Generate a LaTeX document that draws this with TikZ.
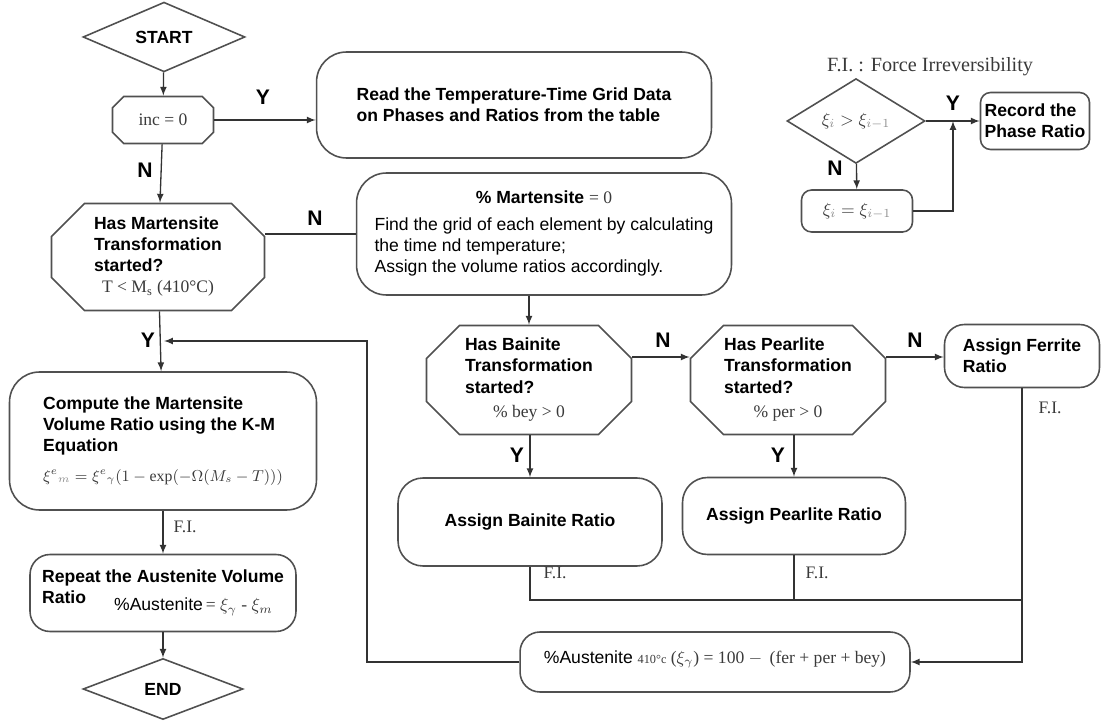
\documentclass[tikz,border=0pt]{standalone}
\usepackage{fontspec}
\setmainfont{Liberation Serif}
\setsansfont{Liberation Sans}
\usetikzlibrary{shapes.geometric,shapes.misc,positioning}
\definecolor{edge}{HTML}{505050}
\definecolor{serif}{HTML}{3A3A3A}
\tikzset{
  lbl/.style={font=\sffamily\bfseries\fontsize{10}{12}\selectfont, align=left},
  yn/.style={font=\sffamily\bfseries\fontsize{12}{14}\selectfont},
  fi/.style={font=\rmfamily\fontsize{10}{12}\selectfont, text=serif},
  decide/.style={diamond, draw=edge, line width=0.9pt, inner sep=0pt, lbl},
  octo/.style={chamfered rectangle, chamfered rectangle xsep=0.55cm, draw=edge, line width=0.9pt, inner sep=0pt, lbl},
  rbox/.style={rectangle, rounded corners=#1, draw=edge, line width=0.9pt, inner sep=0pt, lbl},
  rbox/.default=0.5cm,
  flow/.style={draw=black!80, line width=0.75pt}
}
\newcommand{\gsub}[1]{\textcolor{black!45}{#1}}
\begin{document}
\begin{tikzpicture}[x=0.02cm, y=-0.02cm]
  \useasboundingbox (0,0) rectangle (1102,726);
  % main column
  \node[decide, minimum width=3.24cm, minimum height=1.24cm] (start) at (164,37) {START};
  \node[octo, chamfered rectangle xsep=0.25cm, minimum width=2.02cm, minimum height=0.94cm] (inc) at (163,120)
    {\rmfamily\mdseries\color{serif}inc = 0};
  \node[rbox=0.6cm, minimum width=7.9cm, minimum height=2.12cm] (read) at (514,105)
    {Read the Temperature-Time Grid Data\\on Phases and Ratios from the table};
  \node[octo, minimum width=4.26cm, minimum height=2.14cm] (mart) at (158,257)
    {\begin{tabular}{@{}l@{}}Has Martensite\\Transformation\\started?\\
     \multicolumn{1}{@{}c@{}}{\rmfamily\mdseries\color{serif}T < M\textsubscript{s} (410°C)}\end{tabular}};
  \node[rbox=0.6cm, minimum width=7.5cm, minimum height=2.44cm] (pmart) at (544,234)
    {\begin{tabular}{@{}l@{}}\multicolumn{1}{@{}c@{}}{\% Martensite {\rmfamily\mdseries\color{serif}= 0}}\\[3pt]
     \mdseries Find the grid of each element by calculating\\
     \mdseries the time nd temperature;\\
     \mdseries Assign the volume ratios accordingly.\end{tabular}};
  \node[rbox=0.6cm, minimum width=6.14cm, minimum height=2.76cm] (compute) at (163,441)
    {\begin{tabular}{@{}l@{}}Compute the Martensite\\Volume Ratio using the K-M\\Equation\\[5pt]
     \mdseries\color{serif}\fontsize{9}{11}\selectfont$\xi^{e}{}_{\gsub{m}} = \xi^{e}{}_{\gamma}(1-\exp(-\Omega(M_{s}-T)))$\end{tabular}};
  \node[rbox=0.4cm, minimum width=5.32cm, minimum height=1.54cm] (repeat) at (163,593)
    {Repeat the Austenite Volume\\Ratio\hspace{16pt}\raisebox{-4pt}{\mdseries\%Austenite{\rmfamily\color{serif}\,= $\xi_{\gamma}$ - $\xi_{m}$}}};
  \node[decide, minimum width=3.2cm, minimum height=1.22cm] (stop) at (163,689) {END};
  % right part
  \node[octo, minimum width=4.1cm, minimum height=2.18cm] (bai) at (529,380)
    {\begin{tabular}{@{}l@{}}Has Bainite\\Transformation\\started?\\[2pt]
     \multicolumn{1}{@{}c@{}}{\rmfamily\mdseries\color{serif}\% bey > 0}\end{tabular}};
  \node[octo, minimum width=3.9cm, minimum height=2.18cm] (pea) at (788,380)
    {\begin{tabular}{@{}l@{}}Has Pearlite\\Transformation\\started?\\[2pt]
     \multicolumn{1}{@{}c@{}}{\rmfamily\mdseries\color{serif}\% per > 0}\end{tabular}};
  \node[rbox=0.4cm, minimum width=3.1cm, minimum height=1.26cm] (fer) at (1022,356) {Assign Ferrite\\Ratio};
  \node[rbox, minimum width=5.28cm, minimum height=1.76cm] (bass) at (530,522) {Assign Bainite Ratio};
  \node[rbox, minimum width=4.46cm, minimum height=1.54cm] (pass) at (794,516) {Assign Pearlite Ratio};
  \node[rbox=0.4cm, minimum width=7.8cm, minimum height=1.2cm] (aus) at (715,662)
    {\raisebox{6pt}{\mdseries\%Austenite {\rmfamily\color{serif}{\scriptsize 410°c} ($\xi_{\gamma}$) = 100 $-$\, (fer + per + bey)}}};
  % legend
  \node[fi, font=\rmfamily\fontsize{11.5}{13}\selectfont] (title) at (930,67) {F.I. : Force Irreversibility};
  \node[decide, minimum width=2.76cm, minimum height=1.14cm] (cmp) at (856,121)
    {\rmfamily\mdseries\color{serif}$\xi_{\gsub{i}} > \xi_{\gsub{i-1}}$};
  \node[rbox=0.2cm, minimum width=2.18cm, minimum height=1.14cm] (rec) at (1035,121) {Record the\\Phase Ratio};
  \node[rbox=0.2cm, minimum width=2.22cm, minimum height=0.84cm] (keep) at (857,211)
    {\rmfamily\mdseries\color{serif}$\xi_{\gsub{i}} = \xi_{\gsub{i-1}}$};

  \coordinate (ent) at (164,341);
  \coordinate (turn) at (367,341);
  \coordinate (low) at (0,600);
  \coordinate (jn) at (953,121);

  % connectors
  \draw[flow, -latex] (start) -- (inc);
  \draw[flow, -latex] (inc.east) -- (inc.east -| read.west);
  \draw[flow, -latex] (inc) -- (mart);
  \draw[flow] (pmart.west -| mart.east) -- (pmart.west);
  \draw[flow, -latex] (pmart.south -| bai.north) -- (bai.north);
  \draw[flow, -latex] (mart) -- (compute);
  \draw[flow, -latex] (aus.west) -| (turn) -- (ent);
  \draw[flow, -latex] (compute) -- (repeat);
  \draw[flow, -latex] (repeat) -- (stop);
  \draw[flow, -latex] ([yshift=0.46cm]bai.east) -- ([yshift=0.46cm]pea.west);
  \draw[flow, -latex] ([yshift=0.46cm]pea.east) -- ([yshift=0.46cm]pea.east -| fer.west);
  \draw[flow, -latex] (bai.south -| bass.north) -- (bass.north);
  \draw[flow, -latex] (pea.south -| pass.north) -- (pass.north);
  \draw[flow] (bass.south) |- (fer.south |- low);
  \draw[flow] (pass.south) -- (pass.south |- low);
  \draw[flow, -latex] (fer.south) |- (aus.east);
  \draw[flow, -latex] (cmp.east) -- (rec.west);
  \draw[flow, -latex] (cmp) -- (keep);
  \draw[flow, -latex] (keep.east) -| (jn);

  % labels
  \node[yn] at (263,97) {Y};
  \node[yn] at (145,170) {N};
  \node[yn] at (315,218) {N};
  \node[yn] at (148,340) {Y};
  \node[yn] at (663,340) {N};
  \node[yn] at (915,340) {N};
  \node[yn] at (517,455) {Y};
  \node[yn] at (778,455) {Y};
  \node[yn] at (953,103) {Y};
  \node[yn] at (835,168) {N};
  \node[fi] at (185,527) {F.I.};
  \node[fi] at (555,573) {F.I.};
  \node[fi] at (817,573) {F.I.};
  \node[fi] at (1050,408) {F.I.};
\end{tikzpicture}
\end{document}
